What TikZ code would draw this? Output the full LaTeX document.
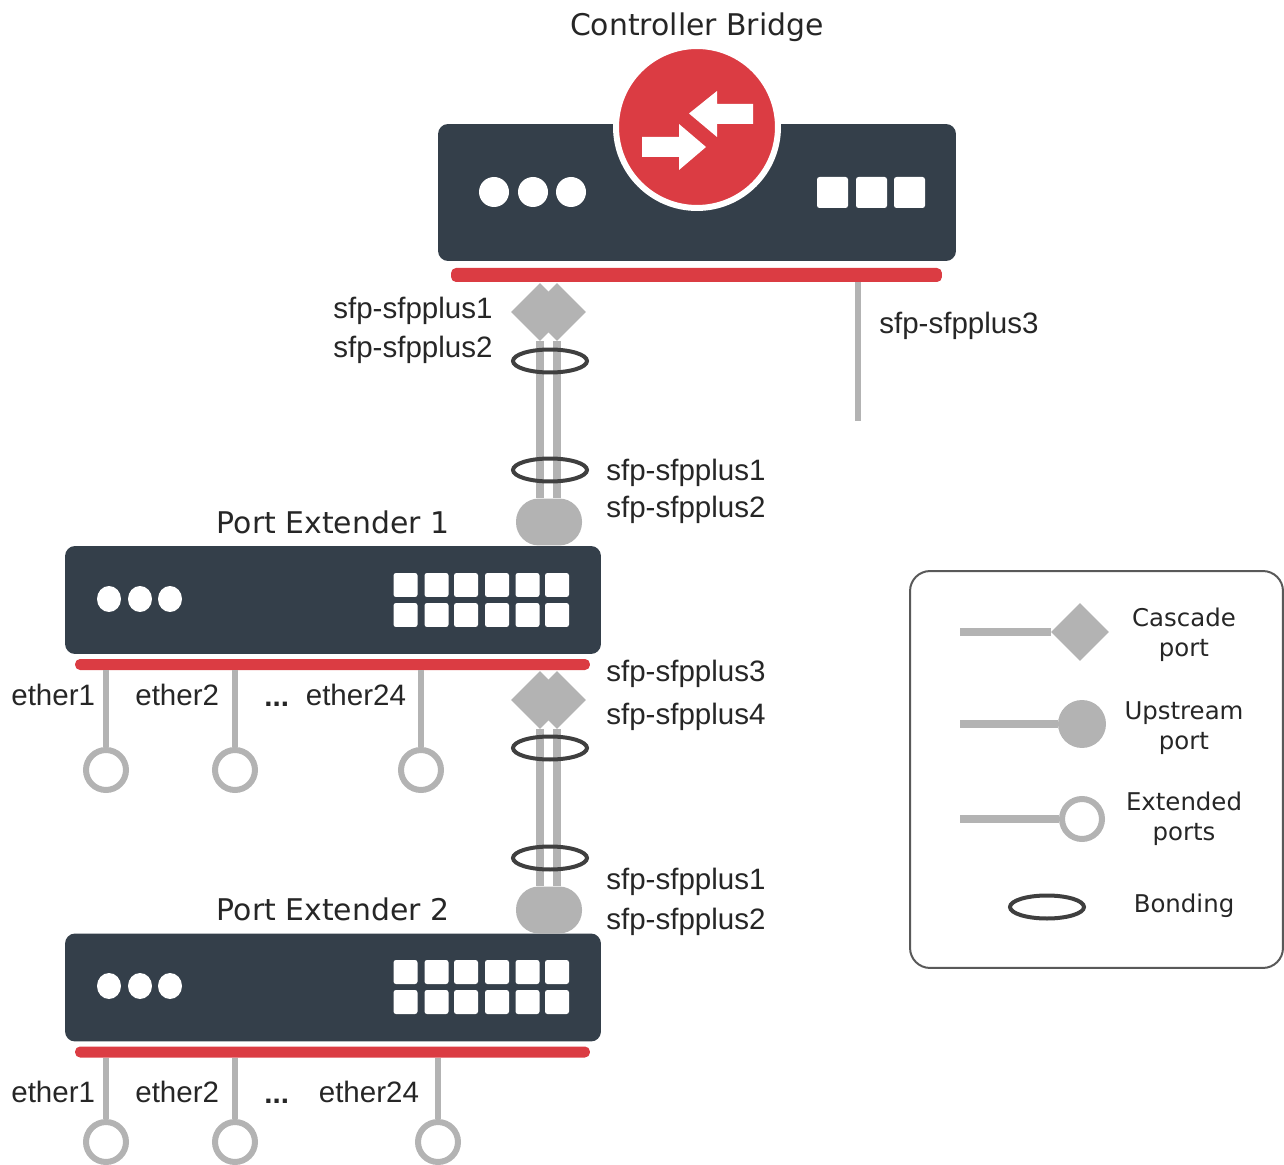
\documentclass[tikz,border=0pt]{standalone}
\usepackage{fontspec}
\usetikzlibrary{shapes.geometric}
\setmainfont{DejaVu Sans}
\newfontfamily\portfont{Liberation Sans}
\definecolor{boxdark}{HTML}{343F4A}
\definecolor{barred}{HTML}{DB3C43}
\definecolor{portgray}{HTML}{B3B3B3}
\definecolor{bondgray}{HTML}{3F3F3F}
\tikzset{
  devbox/.style={fill=boxdark,rounded corners=0.2cm,minimum height=#1,inner sep=0},
  redbar/.style={fill=barred,rounded corners=0.1cm,minimum height=#1,inner sep=0},
  led/.style={circle,fill=white,inner sep=0,minimum size=0.6cm},
  ledthin/.style={ellipse,fill=white,inner sep=0,minimum width=0.48cm,minimum height=0.52cm},
  sfpbtn/.style={fill=white,rounded corners=0.05cm,inner sep=0,minimum size=#1},
  cascade/.style={diamond,fill=portgray,inner sep=0,minimum size=1.16cm},
  upstream/.style={circle,fill=portgray,inner sep=0,minimum size=0.96cm},
  upstreamwide/.style={fill=portgray,rounded corners=0.46cm,inner sep=0,minimum width=1.32cm,minimum height=0.94cm},
  extended/.style={circle,draw=portgray,line width=0.12cm,fill=white,inner sep=0,minimum size=0.8cm},
  bond/.style={ellipse,draw=bondgray,line width=0.08cm,inner sep=0,minimum width=1.48cm,minimum height=0.46cm},
  wire/.style={draw=portgray,line width=0.16cm},
  thinwire/.style={draw=portgray,line width=0.13cm},
  title/.style={font=\fontsize{17}{20}\selectfont,text=black!85},
  legendtext/.style={font=\fontsize{13.9}{17.2}\selectfont,text=black!85,align=center},
  portlabel/.style={font=\portfont\fontsize{16.8}{20}\selectfont,text=black!85,anchor=west,inner sep=0},
}
\begin{document}
\begin{tikzpicture}[x=0.02cm,y=-0.02cm]
  \useasboundingbox (0,0) rectangle (1284,1165);

  % controller bridge
  \node[title] (cbtitle) at (697,27) {Controller Bridge};
  \node[devbox=2.74cm,minimum width=10.36cm] (cb) at (697,192.5) {};
  \node[redbar=0.28cm,minimum width=9.82cm] (cbbar) at (696.5,275) {};
  \node[circle,fill=barred,draw=white,line width=0.12cm,inner sep=0,minimum size=3.24cm] (cbicon) at (697,127) {};
  \fill[white] (642,137) -- (679,137) -- (679,124) -- (706,147) -- (679,170) -- (679,157) -- (642,157) -- cycle;
  \fill[white] (753,104) -- (717,104) -- (717,91) -- (689,113.5) -- (717,137) -- (717,124) -- (753,124) -- cycle;
  \node[led] (cbled1) at (494,192) {};
  \node[led] (cbled2) at (533,192) {};
  \node[led] (cbled3) at (571,192) {};
  \node[sfpbtn=0.62cm] (cbsfp1) at (832.5,192.5) {};
  \node[sfpbtn=0.62cm] (cbsfp2) at (871.5,192.5) {};
  \node[sfpbtn=0.62cm] (cbsfp3) at (909.5,192.5) {};

  % port extender 1
  \node[title] (pe1title) at (333,522) {Port Extender 1};
  \node[devbox=2.16cm,minimum width=10.72cm] (pe1) at (333,600) {};
  \node[redbar=0.22cm,minimum width=10.3cm] (pe1bar) at (332.5,664.5) {};
  \node[ledthin] (pe1led1) at (109,599) {};
  \node[ledthin] (pe1led2) at (140,599) {};
  \node[ledthin] (pe1led3) at (170,599) {};
  % port extender 2
  \node[title] (pe2title) at (333,909) {Port Extender 2};
  \node[devbox=2.16cm,minimum width=10.72cm] (pe2) at (333,987.5) {};
  \node[redbar=0.22cm,minimum width=10.3cm] (pe2bar) at (332.5,1052) {};
  \node[ledthin] (pe2led1) at (109,986) {};
  \node[ledthin] (pe2led2) at (140,986) {};
  \node[ledthin] (pe2led3) at (170,986) {};
  \foreach \x [count=\i] in {405.5,436.5,466,497,527.5,557}{
    \node[sfpbtn=0.48cm] (pe1a\i) at (\x,585) {};
    \node[sfpbtn=0.48cm] (pe1b\i) at (\x,615) {};
    \node[sfpbtn=0.48cm] (pe2a\i) at (\x,972) {};
    \node[sfpbtn=0.48cm] (pe2b\i) at (\x,1002) {};
  }

  % cascade links
  \node[cascade] (cas1a) at (540,312) {};
  \node[cascade] (cas1b) at (557,312) {};
  \node[upstreamwide] (up1) at (549,522) {};
  \draw[wire] (cas1a) -- (cas1a |- up1.north);
  \draw[wire] (cas1b) -- (cas1b |- up1.north);
  \node[bond] (bond1) at (550,361) {};
  \node[bond] (bond2) at (550,470) {};
  \node[cascade] (cas2a) at (540,700) {};
  \node[cascade] (cas2b) at (557,700) {};
  \node[upstreamwide] (up2) at (549,910) {};
  \draw[wire] (cas2a) -- (cas2a |- up2.north);
  \draw[wire] (cas2b) -- (cas2b |- up2.north);
  \node[bond] (bond3) at (550,748) {};
  \node[bond] (bond4) at (550,858) {};

  % sfp-sfpplus3 stub
  \coordinate (stub) at (858,421);
  \draw[thinwire] (cbbar.south -| stub) -- (stub);

  % extended ports
  \node[extended] (e1a) at (106,770) {};
  \node[extended] (e1b) at (235,770) {};
  \node[extended] (e1c) at (421,770) {};
  \node[extended] (e2a) at (106,1142) {};
  \node[extended] (e2b) at (235,1142) {};
  \node[extended] (e2c) at (438,1142) {};
  \draw[thinwire] (pe1bar.south -| e1a) -- (e1a);
  \draw[thinwire] (pe1bar.south -| e1b) -- (e1b);
  \draw[thinwire] (pe1bar.south -| e1c) -- (e1c);
  \draw[thinwire] (pe2bar.south -| e2a) -- (e2a);
  \draw[thinwire] (pe2bar.south -| e2b) -- (e2b);
  \draw[thinwire] (pe2bar.south -| e2c) -- (e2c);

  % labels
  \node[portlabel] (l1) at (333,311) {sfp-sfpplus1};
  \node[portlabel] (l2) at (333,350) {sfp-sfpplus2};
  \node[portlabel] (l3) at (879,326) {sfp-sfpplus3};
  \node[portlabel] (l4) at (606,473) {sfp-sfpplus1};
  \node[portlabel] (l5) at (606,510) {sfp-sfpplus2};
  \node[portlabel] (l6) at (606,674) {sfp-sfpplus3};
  \node[portlabel] (l7) at (606,717) {sfp-sfpplus4};
  \node[portlabel] (l8) at (606,882) {sfp-sfpplus1};
  \node[portlabel] (l9) at (606,922) {sfp-sfpplus2};
  \node[portlabel] (eth1a) at (11,695) {ether1};
  \node[portlabel] (eth1b) at (135,695) {ether2};
  \node[portlabel] (dots1) at (264,704) {\textbf{...}};
  \node[portlabel] (eth1c) at (305.5,695) {ether24};
  \node[portlabel] (eth2a) at (11,1092) {ether1};
  \node[portlabel] (eth2b) at (135,1092) {ether2};
  \node[portlabel] (dots2) at (264,1101) {\textbf{...}};
  \node[portlabel] (eth2c) at (318.5,1092) {ether24};

  % legend
  \node[draw=black!65,line width=0.04cm,rounded corners=0.4cm,minimum width=7.46cm,minimum height=7.94cm,inner sep=0] (legend) at (1096.5,769.5) {};
  \coordinate (lg1) at (960,632);
  \coordinate (lg2) at (960,724);
  \coordinate (lg3) at (960,819);
  \node[cascade] (lgcas) at (1080,632) {};
  \node[upstream] (lgup) at (1082,724) {};
  \node[extended] (lgext) at (1082,819) {};
  \node[bond] (lgbond) at (1047,907) {};
  \draw[wire] (lg1) -- (lgcas);
  \draw[wire] (lg2) -- (lgup);
  \draw[wire] (lg3) -- (lgext);
  \node[legendtext] (lgt1) at (1184,635) {Cascade\\port};
  \node[legendtext] (lgt2) at (1184,728) {Upstream\\port};
  \node[legendtext] (lgt3) at (1184,819) {Extended\\ports};
  \node[legendtext] (lgt4) at (1184,906) {Bonding};
\end{tikzpicture}
\end{document}
